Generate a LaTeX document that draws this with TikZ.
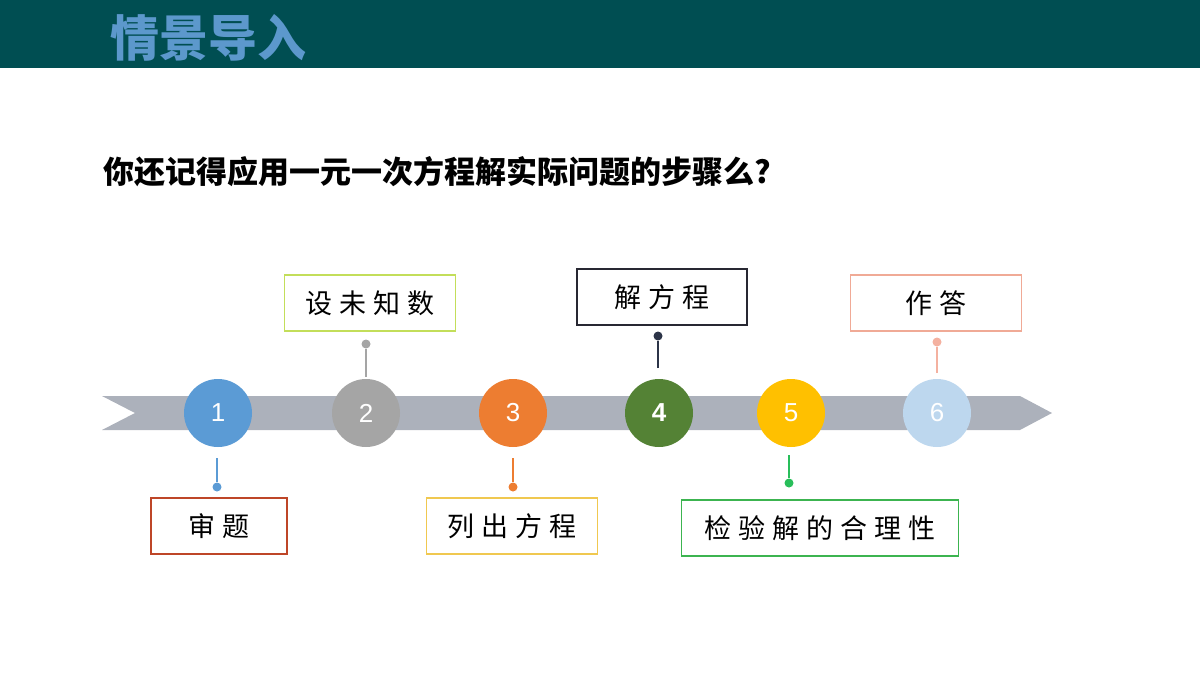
\documentclass[tikz,border=0pt]{standalone}
\usepackage{fontspec}
\newfontfamily\cjk{Noto Sans CJK SC}
\setsansfont{Liberation Sans}
\definecolor{barteal}{RGB}{0,78,82}
\definecolor{titleblue}{RGB}{92,152,204}
\definecolor{bandgray}{RGB}{172,177,187}
\definecolor{cone}{RGB}{91,155,213}
\definecolor{ctwo}{RGB}{165,165,165}
\definecolor{cthree}{RGB}{237,125,49}
\definecolor{cfour}{RGB}{84,130,53}
\definecolor{cfive}{RGB}{255,192,0}
\definecolor{csix}{RGB}{189,215,238}
\definecolor{stemfour}{RGB}{44,52,72}
\definecolor{stemfive}{RGB}{40,190,90}
\definecolor{stemsix}{RGB}{244,177,160}
\definecolor{bxone}{RGB}{190,70,40}
\definecolor{bxtwo}{RGB}{195,222,90}
\definecolor{bxthree}{RGB}{240,200,80}
\definecolor{bxfour}{RGB}{40,40,50}
\definecolor{bxfive}{RGB}{60,180,80}
\definecolor{bxsix}{RGB}{240,170,150}
\newcommand{\gap}{\kern7pt}
\tikzset{every picture/.style={line width=0.75pt}}
\begin{document}
\begin{tikzpicture}[x=1pt,y=-1pt,
  stepdot/.style={circle,minimum size=68pt,inner sep=0pt,text=white,font=\sffamily\fontsize{26}{30}\selectfont},
  stepbox/.style={draw,line width=1.5pt,minimum height=56pt,font=\cjk\fontsize{27}{30}\selectfont},
  stem/.style={line width=2.5pt},
  tipdot/.style={circle,inner sep=0pt,minimum size=9pt}]
    \useasboundingbox (0,0) rectangle (1200,675);
    % header
    \fill[barteal] (0,0) rectangle (1200,68);
    \node (title) [anchor=west,inner sep=0pt,text=titleblue,font=\cjk\bfseries\fontsize{49}{52}\selectfont] at (110,38) {情景导入};
    \node (question) [anchor=west,inner sep=0pt,font=\cjk\bfseries\fontsize{31}{34}\selectfont] at (103,172) {你还记得应用一元一次方程解实际问题的步骤么?};
    % band
    \fill[bandgray] (102,396) -- (1020,396) -- (1052,413) -- (1020,430) -- (102,430) -- (135,413) -- cycle;
    % circles
    \node (s1) [stepdot,fill=cone] at (218,413) {1};
    \node (s2) [stepdot,fill=ctwo] at (366,413) {2};
    \node (s3) [stepdot,fill=cthree] at (513,413) {3};
    \node (s4) [stepdot,fill=cfour,font=\sffamily\bfseries\fontsize{26}{30}\selectfont] at (659,413) {4};
    \node (s5) [stepdot,fill=cfive] at (791,413) {5};
    \node (s6) [stepdot,fill=csix] at (937,413) {6};
    % dots
    \node (d1) [tipdot,fill=cone] at (217,487) {};
    \node (d2) [tipdot,fill=ctwo] at (366,344) {};
    \node (d3) [tipdot,fill=cthree] at (513,487) {};
    \node (d4) [tipdot,fill=stemfour] at (658,336) {};
    \node (d5) [tipdot,fill=stemfive] at (789,483) {};
    \node (d6) [tipdot,fill=stemsix] at (937,342) {};
    \coordinate (t1) at (217,458);
    \coordinate (t2) at (366,377);
    \coordinate (t3) at (513,458);
    \coordinate (t4) at (658,368);
    \coordinate (t5) at (789,455);
    \coordinate (t6) at (937,373);
    \draw[stem,cone] (t1) -- (d1);
    \draw[stem,ctwo] (t2) -- (d2);
    \draw[stem,cthree] (t3) -- (d3);
    \draw[stem,stemfour] (t4) -- (d4);
    \draw[stem,stemfive] (t5) -- (d5);
    \draw[stem,stemsix] (t6) -- (d6);
    % boxes
    \node (b1) [stepbox,draw=bxone,minimum width=136pt] at (219,526) {审\gap 题};
    \node (b2) [stepbox,draw=bxtwo,minimum width=171pt] at (370,303) {设\gap 未\gap 知\gap 数};
    \node (b3) [stepbox,draw=bxthree,minimum width=171pt] at (512,526) {列\gap 出\gap 方\gap 程};
    \node (b4) [stepbox,draw=bxfour,minimum width=170pt] at (662,297) {解\gap 方\gap 程};
    \node (b5) [stepbox,draw=bxfive,minimum width=277pt] at (820,528) {检\gap 验\gap 解\gap 的\gap 合\gap 理\gap 性};
    \node (b6) [stepbox,draw=bxsix,minimum width=171pt] at (936,303) {作\gap 答};
\end{tikzpicture}
\end{document}
